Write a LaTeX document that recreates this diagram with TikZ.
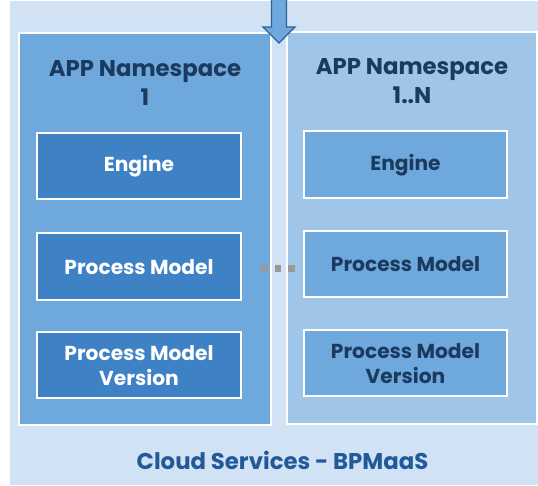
\documentclass[tikz,border=0pt]{standalone}
\usepackage{fontspec}
\setmainfont{Poppins}
\definecolor{outerbg}{HTML}{D0E2F3}
\definecolor{nsA}{HTML}{6FA8DC}
\definecolor{boxA}{HTML}{3E82C5}
\definecolor{nsB}{HTML}{9FC5E8}
\definecolor{boxB}{HTML}{6FA8DC}
\definecolor{navy}{HTML}{1B3A60}
\definecolor{cloudtxt}{HTML}{22599A}
\definecolor{arrowline}{HTML}{2E6296}
\definecolor{dotgray}{HTML}{999999}
\tikzset{
  ns/.style={draw=white, line width=1.2pt, rectangle},
  inbox/.style={draw=white, line width=1.3pt, rectangle},
  txt/.style={font=\fontsize{20.2}{25}\selectfont\bfseries, align=center, inner sep=0pt},
  head/.style={font=\fontsize{22.8}{29}\selectfont\bfseries, align=center, inner sep=0pt},
  dot/.style={fill=dotgray, minimum size=6.5pt, inner sep=0pt, rectangle}
}
\begin{document}
\begin{tikzpicture}[x=1pt,y=-1pt]
\useasboundingbox (0,0) rectangle (538,485);
\fill[white] (0,0) rectangle (538,485);
\fill[outerbg] (10,1) rectangle (538,485);
% namespaces
\draw[ns, fill=nsA] (19,33) rectangle (271,425);
\draw[ns, fill=nsB] (287,32) rectangle (537,424);
\node[head, text=navy] (h1) at (145,82.5) {APP Namespace\\1};
\node[head, text=navy] (h2) at (412,81.5) {APP Namespace\\1..N};
% left inner boxes
\draw[inbox, fill=boxA] (37,133) rectangle (241,199);
\draw[inbox, fill=boxA] (37,233) rectangle (241,300);
\draw[inbox, fill=boxA] (37,332) rectangle (241,398);
\node[txt, text=white] (e1) at (139,166.5) {Engine};
\node[txt, text=white] (p1) at (139,267) {Process Model};
\node[txt, text=white] (v1) at (139,365.5) {Process Model\\Version};
% right inner boxes
\draw[inbox, fill=boxB] (304,131) rectangle (507,198);
\draw[inbox, fill=boxB] (304,231) rectangle (507,297);
\draw[inbox, fill=boxB] (304,330) rectangle (507,396);
\node[txt, text=navy] (e2) at (405.5,165) {Engine};
\node[txt, text=navy] (p2) at (405.5,264.5) {Process Model};
\node[txt, text=navy] (v2) at (405.5,363.5) {Process Model\\Version};
% dots
\node[dot] (d1) at (264.5,268.5) {};
\node[dot] (d2) at (278,268.5) {};
\node[dot] (d3) at (291.5,268.5) {};
% arrow
\draw[fill=nsA, draw=arrowline, line width=1.3pt, line join=miter]
  (271.5,-2) -- (271.5,27) -- (263,27) -- (279,43) -- (295,27) -- (286.5,27) -- (286.5,-2) -- cycle;
% bottom label
\node[head, text=cloudtxt] (cloud) at (282.5,460) {Cloud Services - BPMaaS};
\end{tikzpicture}
\end{document}
